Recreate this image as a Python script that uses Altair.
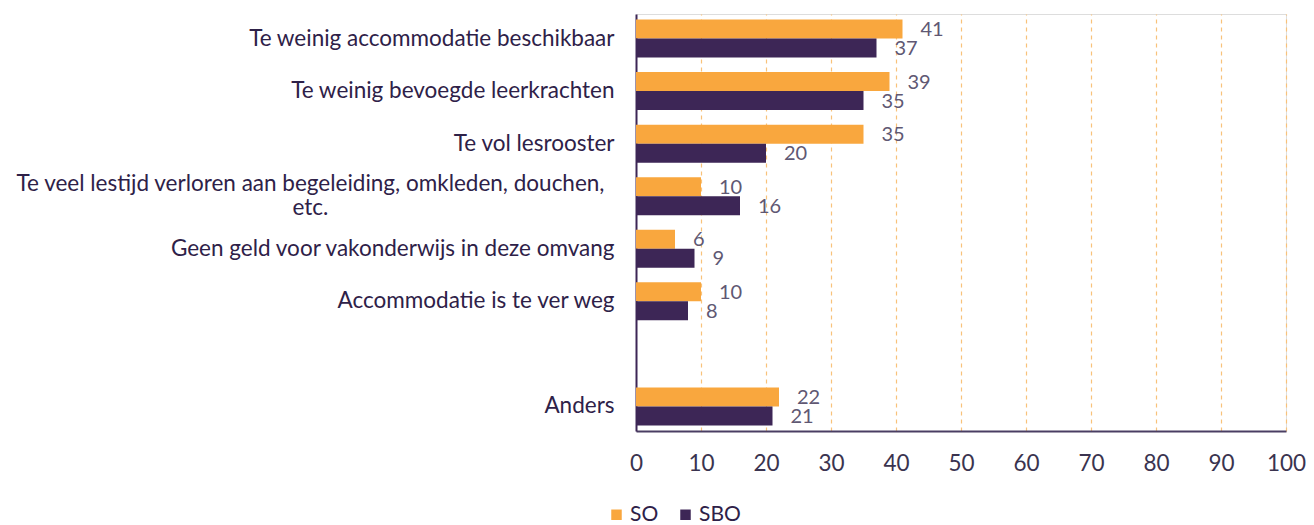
import altair as alt
import pandas as pd

categories = [
    "Te weinig accommodatie beschikbaar",
    "Te weinig bevoegde leerkrachten",
    "Te vol lesrooster",
    "Te veel lestijd verloren aan begeleiding, omkleden, douchen,\netc.",
    "Geen geld voor vakonderwijs in deze omvang",
    "Accommodatie is te ver weg",
    " ",
    "Anders",
]
so_values = [41, 39, 35, 10, 6, 10, None, 22]
sbo_values = [37, 35, 20, 16, 9, 8, None, 21]
series = ["SO", "SBO"]
colors = ["#F9A73E", "#3D2656"]

rows = []
for c, a, b in zip(categories, so_values, sbo_values):
    if a is not None:
        rows.append({"cat": c, "series": "SO", "value": a})
    if b is not None:
        rows.append({"cat": c, "series": "SBO", "value": b})
df = pd.DataFrame(rows)

font = "Lato"
is_long = "indexof(datum.value, 'etc.') >= 0"

y_enc = alt.Y(
    "cat:N",
    scale=alt.Scale(domain=categories, paddingInner=0.277, paddingOuter=0.105),
    axis=alt.Axis(
        title=None,
        ticks=False,
        grid=False,
        domainColor="#3D2656",
        domainWidth=2,
        labelFont=font,
        labelFontSize=22.5,
        labelColor="#2E2148",
        labelLimit=700,
        labelLineHeight=24,
        labelExpr="split(datum.label, '\\n')",
        labelAlign=alt.condition(is_long, alt.value("center"), alt.value("right")),
        labelPadding=alt.condition(is_long, alt.value(326), alt.value(22)),
        labelOffset=alt.condition(is_long, alt.value(-12), alt.value(0)),
    ),
)

x_enc = alt.X(
    "value:Q",
    scale=alt.Scale(domain=[0, 100], nice=False),
    axis=alt.Axis(
        title=None,
        values=list(range(0, 101, 10)),
        ticks=False,
        grid=True,
        gridDash=[4, 4],
        gridColor=alt.condition("datum.value == 0", alt.value("transparent"), alt.value("#F8C27A")),
        gridWidth=1.2,
        domainColor="#4A3E63",
        domainWidth=2,
        labelFont=font,
        labelFontSize=22.5,
        labelColor="#3A334F",
        labelPadding=21,
        labelFlush=False,
    ),
)

base = alt.Chart(df).encode(
    y=y_enc,
    x=x_enc,
    yOffset=alt.YOffset("series:N", sort=series, scale=alt.Scale(domain=series)),
)

bars = base.mark_bar(size=19).encode(
    color=alt.Color(
        "series:N",
        scale=alt.Scale(domain=series, range=colors),
        legend=alt.Legend(
            title=None,
            orient="none",
            direction="horizontal",
            legendX=-30,
            legendY=490,
            symbolType="square",
            symbolSize=110,
            symbolStrokeWidth=0,
            labelFont=font,
            labelFontSize=21,
            labelColor="#2E2148",
            columnPadding=16,
            labelOffset=3,
        ),
    )
)

labels = base.mark_text(
    align="left", baseline="middle", dx=18, dy=1, font=font, fontSize=20, color="#605873"
).encode(text="value:Q")

chart = (
    alt.layer(bars, labels)
    .properties(
        width=650,
        height=417,
        autosize=alt.AutoSizeParams(type="none"),
        padding={"left": 636, "top": 14, "right": 28, "bottom": 94},
    )
    .configure_view(stroke=None)
    .configure(background="white")
)

chart.save("out.html", embed_options={"renderer": "svg", "actions": False})
